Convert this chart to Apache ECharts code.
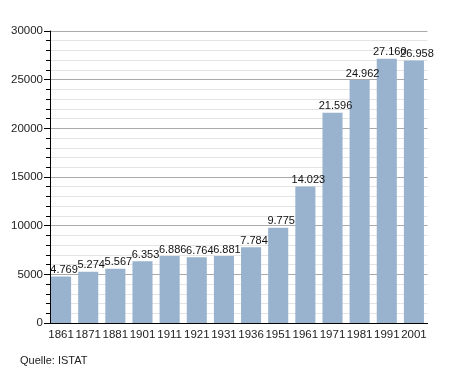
<!DOCTYPE html>
<html><head><meta charset="utf-8">
<script src="https://cdn.jsdelivr.net/npm/echarts@6/dist/echarts.min.js"></script>
<style>html,body{margin:0;padding:0;background:#fff}#c{width:455px;height:373px}</style>
</head><body><div id="c"></div>
<script>
const years = ['1861','1871','1881','1901','1911','1921','1931','1936','1951','1961','1971','1981','1991','2001'];
const population = [4769,5274,5567,6353,6886,6764,6881,7784,9775,14023,21596,24962,27160,26958];
const yTicks = [0,5000,10000,15000,20000,25000,30000];
const sourceText = 'Quelle: ISTAT';

const chart = echarts.init(document.getElementById('c'), null, {renderer:'canvas'});
const font = 'Liberation Sans, Arial, sans-serif';
chart.setOption({
  animation:false,
  backgroundColor:'#fff',
  grid:{left:47.5,right:27.5,top:31,bottom:50,containLabel:false},
  graphic:[{type:'text',left:20,top:355,style:{text:sourceText,font:'11px '+font,fill:'#222'}}],
  xAxis:{type:'category',data:years,
    axisLine:{lineStyle:{color:'#000',width:1}},
    axisTick:{show:false},
    axisLabel:{color:'#222',fontFamily:font,fontSize:11.5,margin:6,interval:0}},
  yAxis:{type:'value',min:yTicks[0],max:yTicks[yTicks.length-1],interval:5000,offset:-2.5,
    axisLine:{show:true,lineStyle:{color:'#000'}},
    axisTick:{show:true,length:6,lineStyle:{color:'#000'}},
    minorTick:{show:true,splitNumber:5,length:4,lineStyle:{color:'#000'}},
    splitLine:{lineStyle:{color:'#aaa'}},
    minorSplitLine:{show:true,lineStyle:{color:'#e4e4e4'}},
    axisLabel:{color:'#222',fontFamily:font,fontSize:11.5,margin:7,formatter:v=>String(v)}},
  series:[{type:'bar',data:population,barCategoryGap:'26%',
    itemStyle:{color:'#99b3cf'},
    label:{show:true,position:'top',distance:1,offset:[3,0],color:'#111',fontFamily:font,fontSize:11,
      formatter:p=>p.value.toLocaleString('de-DE')}}]
});
</script></body></html>
